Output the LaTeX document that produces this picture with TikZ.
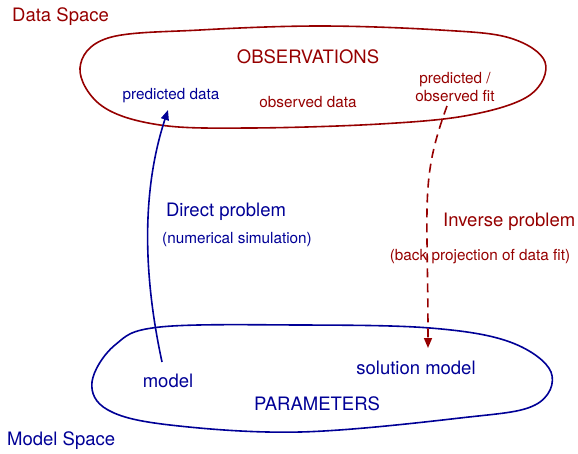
\documentclass[tikz,border=0pt]{standalone}
\usepackage{fontspec}
\setmainfont{TeX Gyre Heros}
\usetikzlibrary{arrows.meta}
\definecolor{dred}{RGB}{150,0,0}
\definecolor{dblue}{RGB}{0,0,150}
\begin{document}
\begin{tikzpicture}[x=1pt,y=-1pt,
  big/.style={font=\fontsize{18.5}{20}\selectfont,inner sep=0pt},
  small/.style={font=\fontsize{15.3}{18}\selectfont,inner sep=0pt},
  blob/.style={line width=1.6pt},
  conn/.style={line width=1.6pt,-{Triangle[length=10pt,width=8pt]}}]
\useasboundingbox (0,0) rectangle (578,453);
% blobs
\draw[blob,dred] plot[smooth cycle,tension=0.6] coordinates {(80,68) (108,38) (200,30) (320,26) (440,30) (510,38) (545,62) (530,95) (470,115) (380,124) (250,128) (160,125) (102,106)};
\draw[blob,dblue] plot[smooth cycle,tension=0.6] coordinates {(92,382) (115,345) (160,327) (300,325) (430,328) (510,342) (551,372) (535,405) (460,418) (300,432) (170,425) (108,410)};
% labels
\node[big,dred,anchor=west] (ds) at (12,17) {Data Space};
\node[big,dblue,anchor=west] (ms) at (7,441) {Model Space};
\node[big,dred] (obs) at (308,57) {OBSERVATIONS};
\node[small,dblue] (pd) at (171,96) {predicted data};
\node[small,dred] (od) at (308,102) {observed data};
\node[small,dred,align=center] (pof) at (455,87) {predicted /\\observed fit};
\node[big,dblue] (dp) at (226,212) {Direct problem};
\node[small,dblue] (ns) at (237,240) {(numerical simulation)};
\node[big,dred,anchor=west] (ip) at (443,222) {Inverse problem};
\node[small,dred] (bp) at (480,257) {(back projection of data fit)};
\node[big,dblue] (sm) at (416,368) {solution model};
\node[big,dblue] (md) at (168,381) {model};
\node[big,dblue] (par) at (317,404) {PARAMETERS};
% connectors
\coordinate (a0) at (162,362);
\coordinate (a1) at (168,110);
\coordinate (b0) at (447,106);
\coordinate (b1) at (428,348);
\draw[conn,dblue] (a0) .. controls (140,260) and (145,180) .. (a1);
\draw[conn,dred,dash pattern=on 9pt off 6pt] (b0) .. controls (420,180) and (428,200) .. (b1);
\end{tikzpicture}
\end{document}
